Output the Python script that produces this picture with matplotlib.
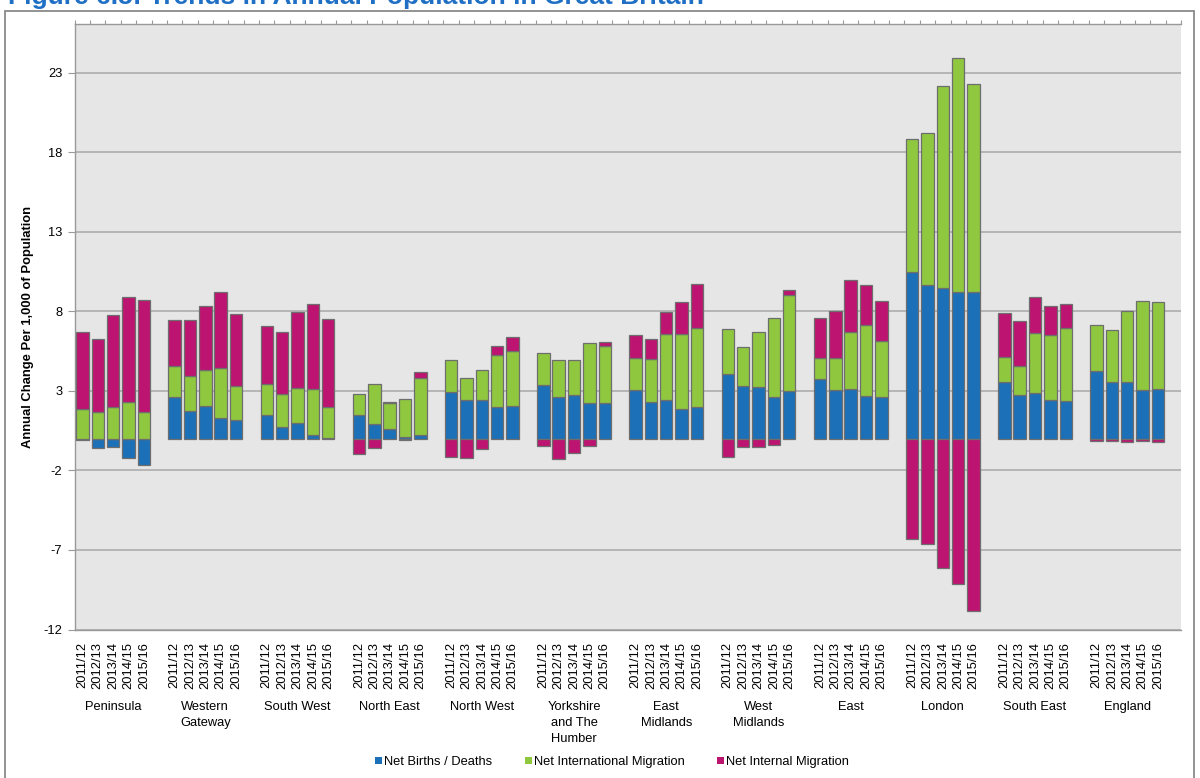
import numpy as np
import matplotlib
matplotlib.use("Agg")
import matplotlib.pyplot as plt
from matplotlib.patches import Patch, Rectangle
from matplotlib.transforms import blended_transform_factory

plt.rcParams['font.family'] = ['Liberation Sans', 'DejaVu Sans']

regions = ["Peninsula", "Western\nGateway", "South West", "North East", "North West",
           "Yorkshire\nand The\nHumber", "East\nMidlands", "West\nMidlands", "East",
           "London", "South East", "England"]
years = ["2011/12", "2012/13", "2013/14", "2014/15", "2015/16"]

births = [
    -0.10, -0.58, -0.52, -1.21, -1.65,   # Peninsula
    2.60, 1.75, 2.04, 1.29, 1.17,        # Western Gateway
    1.48, 0.73, 0.98, 0.23, 0.05,        # South West
    1.48, 0.94, 0.63, 0.13, 0.25,        # North East
    2.94, 2.46, 2.44, 2.00, 2.04,        # North West
    3.35, 2.63, 2.73, 2.23, 2.23,        # Yorkshire
    3.04, 2.31, 2.42, 1.85, 2.00,        # East Midlands
    4.06, 3.31, 3.25, 2.63, 2.98,        # West Midlands
    3.73, 3.04, 3.10, 2.69, 2.63,        # East
    10.48, 9.67, 9.48, 9.21, 9.21,       # London
    3.56, 2.75, 2.88, 2.44, 2.38,        # South East
    4.25, 3.56, 3.56, 3.04, 3.13,        # England
]
international = [
    1.85, 1.65, 2.02, 2.33, 1.71,
    2.00, 2.21, 2.25, 3.13, 2.16,
    1.94, 2.06, 2.19, 2.87, 1.97,
    1.31, 2.48, 1.62, 2.35, 3.54,
    1.98, 1.33, 1.85, 3.29, 3.50,
    2.07, 2.33, 2.19, 3.81, 3.62,
    2.06, 2.73, 4.18, 4.75, 4.98,
    2.81, 2.48, 3.44, 4.94, 6.08,
    1.33, 2.06, 3.63, 4.48, 3.54,
    8.37, 9.56, 12.67, 14.75, 13.10,
    1.56, 1.85, 3.79, 4.10, 4.56,
    2.87, 3.25, 4.50, 5.65, 5.44,
]
internal = [
    4.84, 4.60, 5.73, 6.57, 7.00,
    2.84, 3.48, 4.08, 4.79, 4.54,
    3.66, 3.90, 4.77, 5.40, 5.48,
    -0.96, -0.58, 0.05, -0.10, 0.40,
    -1.13, -1.23, -0.65, 0.52, 0.83,
    -0.46, -1.27, -0.92, -0.46, 0.21,
    1.40, 1.21, 1.34, 2.02, 2.73,
    -1.15, -0.52, -0.52, -0.40, 0.31,
    2.56, 2.96, 3.27, 2.48, 2.46,
    -6.31, -6.64, -8.16, -9.12, -10.83,
    2.81, 2.83, 2.27, 1.83, 1.56,
    -0.15, -0.15, -0.20, -0.13, -0.20,
]

series_names = ["Net Births / Deaths", "Net International Migration", "Net Internal Migration"]
colors = ["#1C70B8", "#8FC73E", "#BC1470"]
edge = "#6E6E6E"

fig = plt.figure(figsize=(12, 7.78), dpi=100)
ax = fig.add_axes([74.7 / 1200, 1 - 629.5 / 778, (1181 - 74.7) / 1200, (629.5 - 24) / 778])
ax.set_facecolor("#E6E6E6")

n_per = len(years)
xs = []
for g in range(len(regions)):
    for k in range(n_per):
        xs.append(g * (n_per + 1) + k)
xs = np.array(xs, dtype=float)

pos_acc = np.zeros(len(xs))
neg_acc = np.zeros(len(xs))
for vals, col in zip([births, international, internal], colors):
    v = np.array(vals)
    bottom = np.where(v >= 0, pos_acc, neg_acc)
    ax.bar(xs, v, bottom=bottom, width=0.81, color=col, edgecolor=edge, linewidth=0.9, zorder=3)
    pos_acc = pos_acc + np.where(v >= 0, v, 0)
    neg_acc = neg_acc + np.where(v < 0, v, 0)

ax.set_xlim(-0.5, len(regions) * (n_per + 1) - 0.5)
ax.set_ylim(-12, 26.08)
yt = np.arange(-12, 24, 5)
ax.set_yticks(yt)
ax.set_yticklabels([str(t) for t in yt], fontsize=9.3)
ax.grid(axis='y', color="#A8A8A8", linewidth=1.1, zorder=1)
ax.tick_params(axis='y', length=5, color="#999999", pad=4, width=0.8)

ax.set_xticks(xs)
ax.set_xticklabels(years * len(regions), rotation=90, fontsize=9.3)
ax.tick_params(axis='x', length=0, pad=9)

for s in ["left", "top", "bottom"]:
    ax.spines[s].set_color("#999999")
    ax.spines[s].set_linewidth(1.0)
ax.spines["right"].set_visible(False)

secax = ax.secondary_xaxis('top')
secax.set_xticks(np.arange(-0.5, len(regions) * (n_per + 1), 1))
secax.tick_params(length=3, color="#999999", labeltop=False, width=0.8)
secax.spines["top"].set_visible(False)

trans = blended_transform_factory(ax.transData, ax.transAxes)
for g, name in enumerate(regions):
    cx = g * (n_per + 1) + (n_per - 1) / 2
    ax.text(cx, -0.118, name, transform=trans, ha='center', va='top', fontsize=9.3,
            linespacing=1.42)

ax.set_ylabel("Annual Change Per 1,000 of Population", fontsize=9.4, fontweight='bold')
ax.yaxis.set_label_coords(-0.0365, 0.5)

handles = [Patch(facecolor=c, edgecolor='none') for c in colors]
fig.legend(handles, series_names, loc='center', bbox_to_anchor=(0.51, 1 - 762 / 778),
           ncol=3, frameon=False, fontsize=9.3, handlelength=0.55, handleheight=0.55,
           handletextpad=0.15, columnspacing=2.5)

fig.text(8 / 1200, 1 - 4 / 778, "Figure 6.5: Trends in Annual Population in Great Britain",
         fontsize=19, fontweight='bold', color="#1F6FC5", ha='left', va='baseline')

fig.patches.append(Rectangle((5 / 1200, -0.05), 1189 / 1200, 1.05 - 11 / 778,
                             transform=fig.transFigure, fill=False,
                             edgecolor="#8A8A8A", linewidth=1.3))

fig.savefig("out.png", dpi=100)
